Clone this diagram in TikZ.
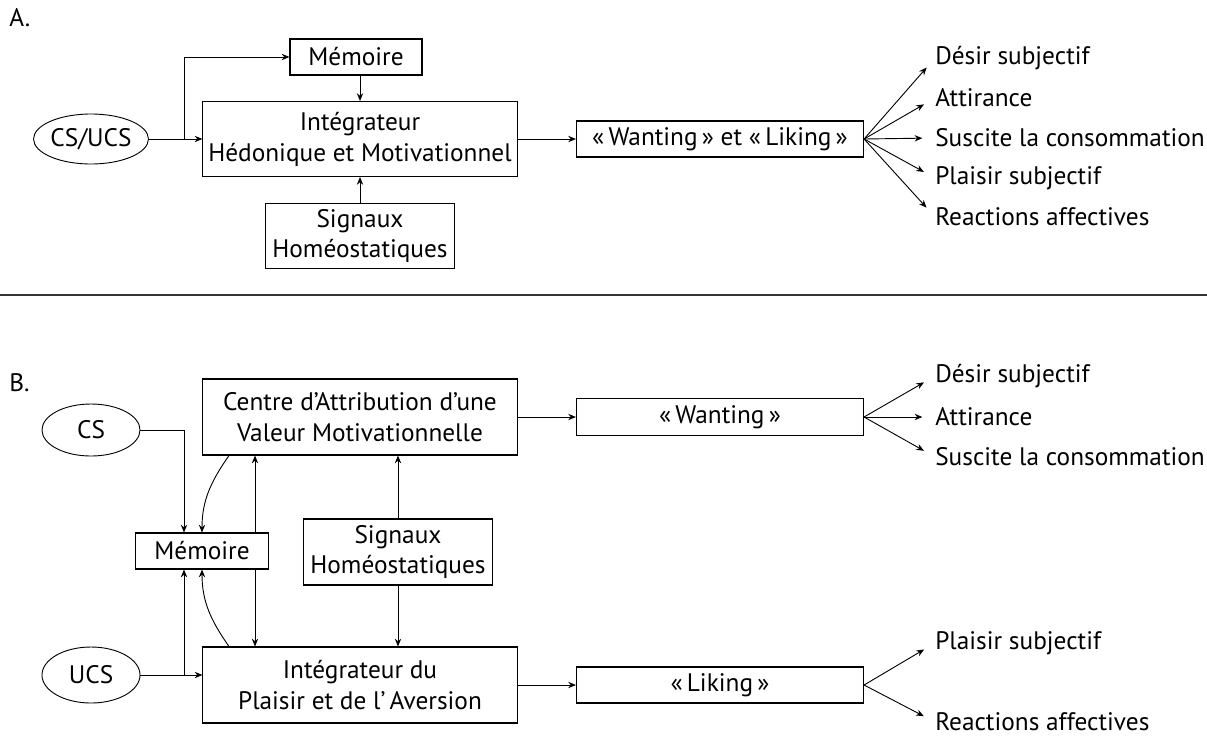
\documentclass[tikz,border=0pt]{standalone}
\usepackage{fontspec}
\setmainfont{PT Sans}
\usetikzlibrary{arrows.meta,shapes.geometric}
\begin{document}
\begin{tikzpicture}[x=0.025cm,y=-0.025cm,
    font=\fontsize{18}{22}\selectfont,
    blk/.style={draw,line width=0.75pt,align=center,inner sep=0pt},
    oval/.style={draw,ellipse,line width=0.65pt,inner sep=0pt,
        minimum width=2.45cm,minimum height=1.3cm},
    outtxt/.style={anchor=west,inner sep=0pt},
    arr/.style={line width=0.65pt,-{Stealth[length=5.5pt,width=4.5pt]}},
    dbl/.style={line width=0.65pt,
        {Stealth[length=5.5pt,width=4.5pt]}-{Stealth[length=5.5pt,width=4.5pt]}}]
    \useasboundingbox (0,0) rectangle (1207,738);

    \node[outtxt] (lblA) at (9,18) {A.};
    \node[blk,minimum width=3.3cm,minimum height=0.9cm] (memA) at (356,57) {Mémoire};
    \node[blk,minimum width=7.85cm,minimum height=1.875cm] (integA) at (360,139)
        {Intégrateur\\Hédonique et Motivationnel};
    \node[blk,minimum width=4.725cm,minimum height=1.625cm] (sigA) at (360,236)
        {Signaux\\Homéostatiques};
    \node[oval,minimum height=1.25cm] (csucs) at (91,139) {CS/UCS};
    \node[blk,minimum width=7.175cm,minimum height=0.9cm] (wlA) at (720,139)
        {«\,Wanting\,» et «\,Liking\,»};
    \node[outtxt] (a1) at (935,58) {Désir subjectif};
    \node[outtxt] (a2) at (935,98) {Attirance};
    \node[outtxt] (a3) at (935,138) {Suscite la consommation};
    \node[outtxt] (a4) at (935,178) {Plaisir subjectif};
    \node[outtxt] (a5) at (935,217) {Reactions affectives};
    \coordinate (brA) at (184,0);

    \draw[arr] (csucs.east) -- (csucs.east -| integA.west);
    \draw[arr] (brA |- csucs.east) |- (memA.west);
    \draw[arr] (memA.south -| integA.north) -- (integA.north);
    \draw[arr] (sigA.north) -- (integA.south);
    \draw[arr] (integA.east) -- (wlA.west);
    \draw[arr,shorten >=9pt] (wlA.east) -- (a1.west);
    \draw[arr,shorten >=9pt] (wlA.east) -- (a2.west);
    \draw[arr,shorten >=9pt] (wlA.east) -- (a3.west);
    \draw[arr,shorten >=9pt] (wlA.east) -- (a4.west);
    \draw[arr,shorten >=9pt] (wlA.east) -- (a5.west);

    \coordinate (sepL) at (0,295);
    \coordinate (sepR) at (1207,295);
    \draw[line width=0.8pt,black!80] (sepL) -- (sepR);

    \node[outtxt] (lblB) at (9,383) {B.};
    \node[blk,minimum width=7.85cm,minimum height=1.9cm] (centre) at (360,417)
        {Centre d’Attribution d’une\\Valeur Motivationnelle};
    \node[oval] (cs) at (91,430) {CS};
    \node[blk,minimum width=7.175cm,minimum height=0.925cm] (wantB) at (720,417)
        {«\,Wanting\,»};
    \node[outtxt] (b1) at (935,376) {Désir subjectif};
    \node[outtxt] (b2) at (935,417) {Attirance};
    \node[outtxt] (b3) at (935,457) {Suscite la consommation};
    \node[blk,minimum width=3.325cm,minimum height=0.9cm] (memB) at (202,551) {Mémoire};
    \node[blk,minimum width=4.725cm,minimum height=1.65cm] (sigB) at (398,552)
        {Signaux\\Homéostatiques};
    \node[blk,minimum width=7.85cm,minimum height=1.9cm] (integB) at (360,685)
        {Intégrateur du\\Plaisir et de l’\,Aversion};
    \node[oval,minimum height=1.4cm] (ucs) at (91,675) {UCS};
    \node[blk,minimum width=7.175cm,minimum height=0.9cm] (likB) at (720,685)
        {«\,Liking\,»};
    \node[outtxt] (b4) at (935,643) {Plaisir subjectif};
    \node[outtxt] (b5) at (935,722) {Reactions affectives};
    \coordinate (brB) at (184,0);
    \coordinate (crv) at (229,0);
    \coordinate (dbx) at (255,0);

    \draw[arr] (cs.east) -| (brB |- memB.north);
    \draw[arr] (ucs.east) -- (ucs.east -| integB.west);
    \draw[arr] (brB |- ucs.east) -- (brB |- memB.south);
    \draw[arr] (crv |- centre.south) to[out=-125,in=90] (memB.north);
    \draw[arr] (crv |- integB.north) to[out=125,in=-90] (memB.south);
    \draw[arr] (dbx |- memB.north) -- (dbx |- centre.south);
    \draw[arr] (dbx |- memB.south) -- (dbx |- integB.north);
    \draw[arr] (sigB.north) -- (sigB.north |- centre.south);
    \draw[arr] (sigB.south) -- (sigB.south |- integB.north);
    \draw[arr] (centre.east) -- (wantB.west);
    \draw[arr] (integB.east) -- (likB.west);
    \draw[arr,shorten >=9pt] (wantB.east) -- (b1.west);
    \draw[arr,shorten >=9pt] (wantB.east) -- (b2.west);
    \draw[arr,shorten >=9pt] (wantB.east) -- (b3.west);
    \draw[arr,shorten >=9pt] (likB.east) -- (b4.west);
    \draw[arr,shorten >=9pt] (likB.east) -- (b5.west);
\end{tikzpicture}
\end{document}
